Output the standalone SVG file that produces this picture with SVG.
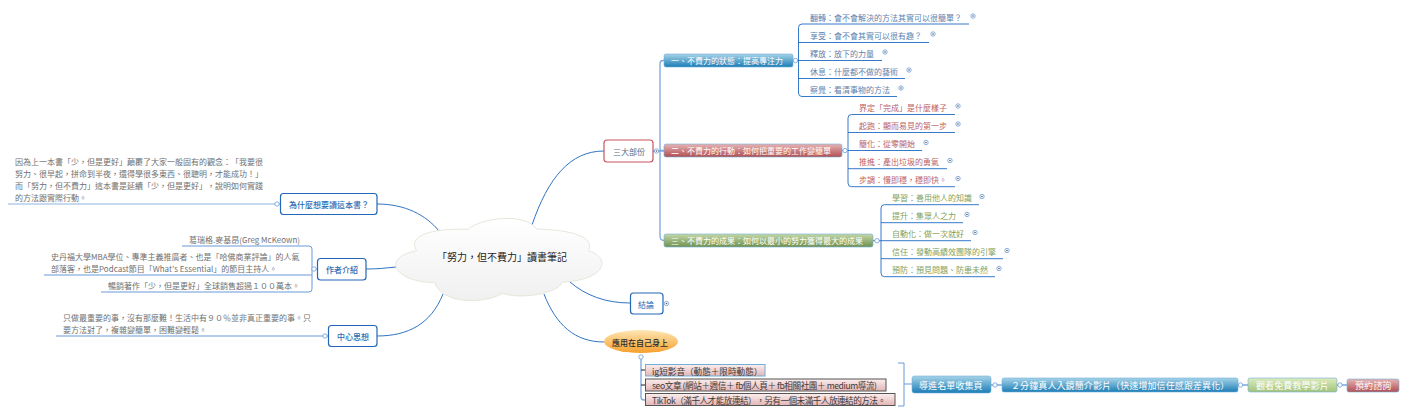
<svg xmlns="http://www.w3.org/2000/svg" width="1407" height="415" viewBox="0 0 1407 415">
<style>
text{font-family:"Noto Sans CJK TC","Noto Sans",sans-serif;font-size:8px;dominant-baseline:central;font-feature-settings:"chws" 0,"halt" 0;text-spacing-trim:space-all}
.c{fill:none;stroke:#2f74c4;stroke-width:1}
.t{fill:none;stroke:#7aa7de;stroke-width:1.3}
.u{fill:none;stroke:#1f6cc4;stroke-width:.9}
.n{fill:none;stroke:#6a9ada;stroke-width:1}
.k{fill:none;stroke:#1c1c1c;stroke-width:1}
.blue{fill:#5f81ad}.red{fill:#bb5f64}.green{fill:#829f5c}.gray{fill:#707070}
.w{fill:#fff}.w9{fill:#fff;font-size:9px;letter-spacing:.1px}
.box{fill:#fff;stroke-width:1.2}
.head{fill:#2a6cb5;font-weight:500}
.dark{fill:#2a2a2a;font-weight:500}
.leaf{fill:#3a3a3a;font-size:8.6px}
</style>
<defs>
<linearGradient id="gb" x1="0" y1="0" x2="0" y2="1"><stop offset="0" stop-color="#a6d3e8"/><stop offset="1" stop-color="#1c7db6"/></linearGradient>
<linearGradient id="gr" x1="0" y1="0" x2="0" y2="1"><stop offset="0" stop-color="#e6b4b4"/><stop offset="1" stop-color="#b04f52"/></linearGradient>
<linearGradient id="gg" x1="0" y1="0" x2="0" y2="1"><stop offset="0" stop-color="#c4d8a8"/><stop offset="1" stop-color="#6f9150"/></linearGradient>
<linearGradient id="gl" x1="0" y1="0" x2="0" y2="1"><stop offset="0" stop-color="#dcebbf"/><stop offset="1" stop-color="#a3c37a"/></linearGradient>
<linearGradient id="gp" x1="0" y1="0" x2="0" y2="1"><stop offset="0" stop-color="#fbeeee"/><stop offset="1" stop-color="#e3b5b5"/></linearGradient>
<linearGradient id="go" x1="0" y1="0" x2="0" y2="1"><stop offset="0" stop-color="#fde6b4"/><stop offset="1" stop-color="#f5a02e"/></linearGradient>
<linearGradient id="gc" x1="0" y1="0" x2="0" y2="1"><stop offset="0" stop-color="#ffffff"/><stop offset="1" stop-color="#f0f0f0"/></linearGradient>
<g id="o"><circle r="2.2" fill="#fff" stroke="#6a9ada" stroke-width=".8"/></g>
<g id="p"><circle r="2.2" fill="#fff" stroke="#6a9ada" stroke-width=".8"/><circle r=".8" fill="#555"/></g>
</defs>

<g id="connectors">
<path class="c" d="M532 225C548 178 570 151 604 151"/>
<path class="c" d="M570 282C585 295 605 303 630 303"/>
<path class="c" d="M544 294C556 325 575 342 604 342"/>
<path class="c" d="M377 204C405 204 426 215 439 231"/>
<path class="c" d="M366 269C378 269 386 268 396 267"/>
<path class="c" d="M377 336C408 336 431 324 443 294"/>
<path class="t" d="M653 151H664M664 60.5H663Q660 60.5 660 64V236Q660 240.500 664 240.500M660 150.500H664"/>
<path class="u" d="M793 60.500H799M969 24H802Q798.500 24 798.500 27.500V93Q798.500 96.500 802 96.500H897M929 42.500H798.500M882 60.500H798.500M905 78.500H798.500"/>
<path class="u" d="M842 150.500H848M955 114.500H851.500Q848 114.500 848 118V183Q848 186.700 851.500 186.700H955M955 132.500H848M922 150.500H848M947 168.700H848"/>
<path class="u" d="M873 240.700H881M979 204.700H884.500Q881 204.700 881 208.200V273Q881 276.700 884.500 276.700H995M963 222.700H881M971 240.700H881M1003 258.700H881"/>
<path d="M8 204H280" fill="none" stroke="#b5cde9" stroke-width="1.3"/>
<path class="n" d="M182 246H309Q312 246 312 249V289Q312 292 309 292H101M44 275H312M312 269H317"/>
<path class="n" d="M56 336H328"/>
<path class="t" d="M641 357V397Q641 400 644 400H645"/>
<path class="k" d="M641 370H645M641 385H645"/>
<path class="n" d="M898 363H904V406H898M904 384H912"/>
<path class="u" d="M991 385H1002M1238 385H1248M1337 385H1347"/>
</g>

<g id="center"><path d="M416.700 250.700C408 238 425 228 468.300 229.300C480 218 525 212 536.700 229C575 230 595 238 588.300 250.700C612 258 606 280 561.700 282.300C560 293 520 300 502.700 293.300C480 306 440 302 435 282.700C395 282 380 258 416.700 250.700Z" fill="url(#gc)" stroke="#e8e6da" stroke-width="1"/><text x="437" y="256" style="font-size:10px" fill="#222">「努力，但不費力」讀書筆記</text></g>

<g id="n-three"><rect class="box" x="604" y="140" width="49" height="22" rx="3" stroke="#c9555c"/><text x="613" y="151.500" fill="#5a6b85">三大部份</text><use href="#p" x="656.500" y="151"/></g>

<g id="n-s1"><rect x="664" y="54" width="129" height="13" rx="2" fill="url(#gb)" stroke="#6fb0d8" stroke-width=".6"/><text x="671" y="60.500" class="w">一、不費力的狀態：提高專注力</text><use href="#o" x="795.500" y="60.500"/></g>
<g id="n-s2"><rect x="664" y="144" width="178" height="13" rx="2" fill="url(#gr)" stroke="#6fb0d8" stroke-width=".6"/><text x="671" y="150.500" class="w">二、不費力的行動：如何把重要的工作變簡單</text><use href="#o" x="845" y="150.500"/></g>
<g id="n-s3"><rect x="664" y="234" width="209" height="13" rx="2" fill="url(#gg)" stroke="#6fb0d8" stroke-width=".6"/><text x="671" y="240.500" class="w">三、不費力的成果：如何以最小的努力獲得最大的成果</text><use href="#o" x="877" y="240.700"/></g>

<g id="l1"><text x="810" y="17" class="blue">翻轉：會不會解決的方法其實可以很簡單？</text><use href="#p" x="973" y="16"/></g>
<g id="l2"><text x="810" y="35" class="blue">享受：會不會其實可以很有趣？</text><use href="#p" x="933" y="34"/></g>
<g id="l3"><text x="810" y="53" class="blue">釋放：放下的力量</text><use href="#p" x="885" y="52"/></g>
<g id="l4"><text x="810" y="71" class="blue">休息：什麼都不做的藝術</text><use href="#p" x="909" y="70"/></g>
<g id="l5"><text x="810" y="89" class="blue">察覺：看清事物的方法</text><use href="#p" x="901" y="88"/></g>

<g id="l6"><text x="859" y="107" class="red">界定「完成」是什麼樣子</text><use href="#p" x="958" y="106"/></g>
<g id="l7"><text x="859" y="125" class="red">起跑：顯而易見的第一步</text><use href="#p" x="958" y="124"/></g>
<g id="l8"><text x="859" y="143" class="red">簡化：從零開始</text><use href="#p" x="926" y="142.500"/></g>
<g id="l9"><text x="859" y="161" class="red">推進：產出垃圾的勇氣</text><use href="#p" x="950" y="160.500"/></g>
<g id="l10"><text x="859" y="179" class="red">步調：慢即穩，穩即快。</text><use href="#p" x="958" y="178.500"/></g>

<g id="l11"><text x="892" y="197" class="green">學習：善用他人的知識</text><use href="#p" x="982" y="196.500"/></g>
<g id="l12"><text x="892" y="215" class="green">提升：集眾人之力</text><use href="#p" x="967" y="214.500"/></g>
<g id="l13"><text x="892" y="233" class="green">自動化：做一次就好</text><use href="#p" x="975" y="232.500"/></g>
<g id="l14"><text x="892" y="251" class="green">信任：發動高績效團隊的引擎</text><use href="#p" x="1007" y="250.500"/></g>
<g id="l15"><text x="892" y="269" class="green">預防：預見問題、防患未然</text><use href="#p" x="999" y="268.500"/></g>

<g id="n-why"><rect class="box" x="280.500" y="193.500" width="96.500" height="21" rx="3" stroke="#2467b8"/><text x="289" y="204.500" class="head">為什麼想要讀這本書？</text><use href="#o" x="277" y="204"/></g>
<g id="why-note"><text x="15" y="161" class="gray">因為上一本書「少，但是更好」顛覆了大家一般固有的觀念：「我要很</text><text x="15" y="173" class="gray">努力、很早起，拼命到半夜，還得學很多東西、很聰明，才能成功！」</text><text x="15" y="185" class="gray">而「努力，但不費力」這本書是延續「少，但是更好」，說明如何實踐</text><text x="15" y="197" class="gray">的方法跟實際行動。</text></g>

<g id="n-author"><rect class="box" x="317.500" y="258.500" width="48.500" height="21.500" rx="3" stroke="#2467b8"/><text x="326" y="269.500" class="head">作者介紹</text><use href="#o" x="314" y="269"/></g>
<g id="author-1"><text x="189" y="239.500" class="gray">葛瑞格.麥基昂(Greg McKeown)</text></g>
<g id="author-2"><text x="51" y="256" class="gray">史丹福大學MBA學位、專準主義推廣者、也是「哈佛商業評論」的人氣</text><text x="51" y="268.500" class="gray">部落客，也是Podcast節目「What's Essential」的節目主持人。</text></g>
<g id="author-3"><text x="108" y="285" class="gray">暢銷著作「少，但是更好」全球銷售超過１００萬本。</text></g>

<g id="n-core"><rect class="box" x="328.500" y="325.500" width="48.500" height="21" rx="3" stroke="#2467b8"/><text x="337" y="336.500" class="head">中心思想</text><use href="#o" x="325" y="336"/></g>
<g id="core-note"><text x="63" y="317" class="gray">只做最重要的事，沒有那麼難！生活中有９０％並非真正重要的事。只</text><text x="63" y="329" class="gray">要方法對了，複雜變簡單，困難變輕鬆。</text></g>

<g id="n-end"><rect class="box" x="630.500" y="293" width="32.500" height="21" rx="3" stroke="#2467b8"/><text x="638" y="304" fill="#2a6cb5">結論</text><use href="#p" x="666.500" y="303.500"/></g>

<g id="n-apply"><ellipse cx="641" cy="341.500" rx="37" ry="11.500" fill="url(#go)"/><text x="612" y="342" class="dark">應用在自己身上</text><use href="#o" x="641" y="357"/></g>

<g id="b1"><rect x="645.500" y="364.500" width="119.500" height="11.500" fill="url(#gp)" stroke="#6fb0d8"/><text x="652" y="370.500" class="leaf">ig短影音（動態＋限時動態）</text></g>
<g id="b2"><rect x="645.500" y="379" width="240.500" height="12" fill="url(#gp)" stroke="#555"/><text x="652" y="385" class="leaf" textLength="225">seo文章 (網站＋週信＋ fb個人頁＋ fb相關社團＋ medium導流)</text></g>
<g id="b3"><rect x="645.500" y="393.500" width="249.500" height="12" fill="url(#gp)" stroke="#555"/><text x="652" y="399.500" class="leaf" textLength="234">TikTok（滿千人才能放連結），另有一個未滿千人放連結的方法。</text></g>

<g id="f1"><rect x="912" y="376" width="79" height="17" rx="2.500" fill="url(#gb)" stroke="#6fb0d8" stroke-width=".6"/><text x="919" y="385" class="w9">導進名單收集頁</text><use href="#o" x="995" y="385"/></g>
<g id="f2"><rect x="1002" y="378" width="236" height="14" rx="2" fill="url(#gb)" stroke="#6fb0d8" stroke-width=".6"/><text x="1011" y="385" class="w9">２分鐘真人入鏡簡介影片（快速增加信任感跟差異化）</text><use href="#o" x="1240.500" y="385"/></g>
<g id="f3"><rect x="1248" y="378" width="89" height="14" rx="2" fill="url(#gl)" stroke="#6fb0d8" stroke-width=".6"/><text x="1256" y="385" class="w9">觀看免費教學影片</text><use href="#o" x="1340" y="385"/></g>
<g id="f4"><rect x="1347" y="379" width="52" height="13" rx="2" fill="url(#gr)" stroke="#6fb0d8" stroke-width=".6"/><text x="1355" y="385.500" class="w9">預約諮詢</text></g>
</svg>
